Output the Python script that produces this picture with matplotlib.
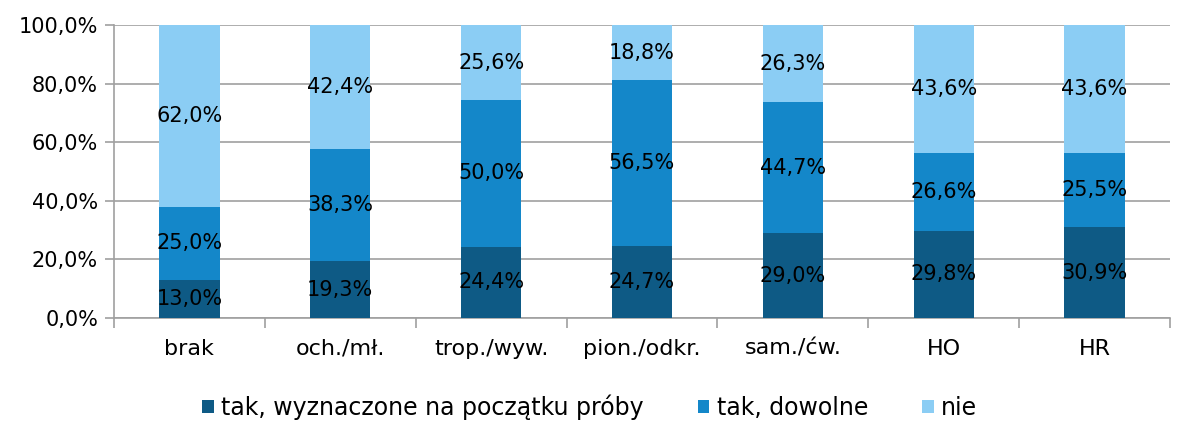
import matplotlib
matplotlib.use("Agg")
import matplotlib.pyplot as plt
import numpy as np

categories = ["brak", "och./mł.", "trop./wyw.", "pion./odkr.", "sam./ćw.", "HO", "HR"]
tak_poczatek = [13.0, 19.3, 24.4, 24.7, 29.0, 29.8, 30.9]
tak_dowolne = [25.0, 38.3, 50.0, 56.5, 44.7, 26.6, 25.5]
nie = [62.0, 42.4, 25.6, 18.8, 26.3, 43.6, 43.6]
series_names = ["tak, wyznaczone na początku próby", "tak, dowolne", "nie"]
colors = ["#0E5A85", "#1487C9", "#8BCDF4"]

plt.rcParams['font.family'] = ['DejaVu Sans']
fig = plt.figure(figsize=(11.79, 4.22), dpi=100)
ax = fig.add_axes([114/1179, 1-318/422, (1170-114)/1179, (318-25)/422])

x = np.arange(len(categories))
bottom = np.zeros(len(categories))
for vals, name, c in zip([tak_poczatek, tak_dowolne, nie], series_names, colors):
    vals = np.array(vals)
    ax.bar(x, vals, width=0.4, bottom=bottom, color=c, label=name, zorder=3)
    for xi, b, v in zip(x, bottom, vals):
        ax.text(xi, b + v/2, f"{v:.1f}%".replace(".", ","), ha="center", va="center",
                fontsize=15, color="black", zorder=4)
    bottom += vals

ax.set_xlim(-0.5, len(categories)-0.5)
ax.set_ylim(0, 100)
ax.set_yticks(np.arange(0, 101, 20))
ax.set_yticklabels([f"{v:.1f}%".replace(".", ",") for v in np.arange(0, 101, 20)], fontsize=15)
ax.yaxis.grid(True, color="#A0A0A0", linewidth=1.2, zorder=0)
ax.set_xticks(x)
ax.set_xticklabels(categories, fontsize=16)
ax.tick_params(axis="x", length=0, pad=15)
ax.set_xticks(np.arange(-0.5, len(categories)), minor=True)
ax.tick_params(axis="x", which="minor", length=7, color="#A0A0A0", width=1.2)
ax.tick_params(axis="y", length=6.5, color="#A0A0A0", width=1.2, pad=5)
for s in ["top", "right"]:
    ax.spines[s].set_visible(False)
for s in ["left", "bottom"]:
    ax.spines[s].set_color("#A0A0A0")
    ax.spines[s].set_linewidth(1.2)

fig.legend(loc="center", bbox_to_anchor=(0.5, 1-407/422), ncol=3, frameon=False,
           fontsize=17, handlelength=0.5, handleheight=0.5, handletextpad=0.3,
           columnspacing=2.3)

fig.savefig("out.png", dpi=100)
